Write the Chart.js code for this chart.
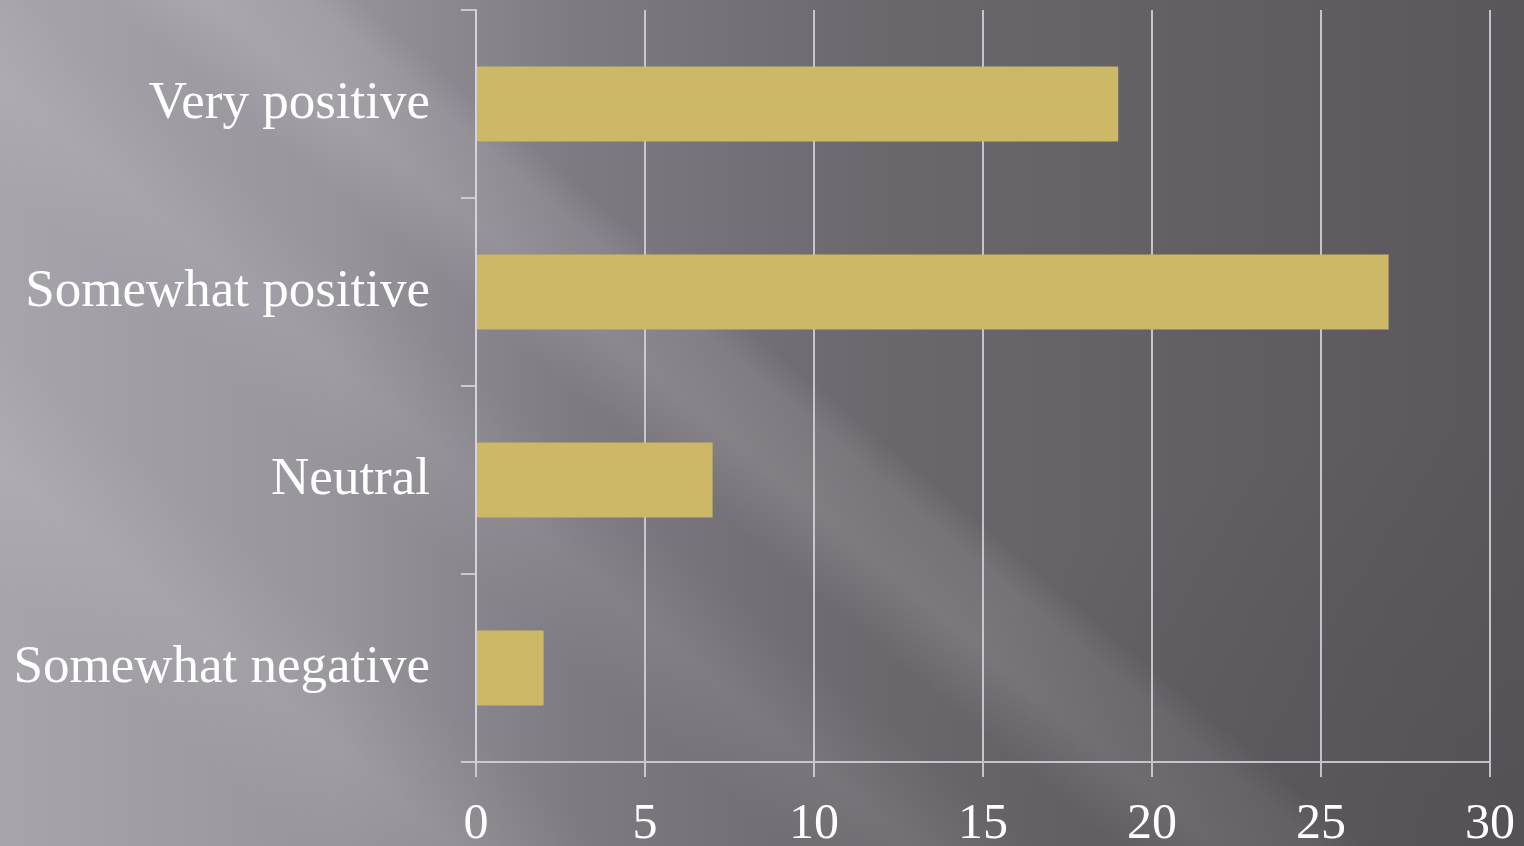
<!DOCTYPE html>
<html>
<head>
<meta charset="utf-8">
<script src="https://cdn.jsdelivr.net/npm/chart.js@4"></script>
<style>
  html, body { margin: 0; padding: 0; }
  body {
    width: 1524px; height: 846px; overflow: hidden;
    background:
      radial-gradient(ellipse 900px 600px at 1524px 846px, rgba(80,76,82,0.55), rgba(80,76,82,0) 70%),
      linear-gradient(40deg, rgba(255,255,255,0) 44%, rgba(255,255,255,0.12) 48%, rgba(255,255,255,0.09) 52%, rgba(255,255,255,0) 54%),
      linear-gradient(40deg, rgba(255,255,255,0) 12%, rgba(255,255,255,0.08) 18%, rgba(255,255,255,0) 24%,
                             rgba(255,255,255,0) 31%, rgba(255,255,255,0.07) 36%, rgba(255,255,255,0) 41%),
      linear-gradient(to right, #a8a4ac 0%, #98949c 22%, #7e7a81 38%, #6b676d 58%, #5a565c 100%);
  }
  #wrap { position: absolute; left: 0; top: 0; width: 1524px; height: 846px; }
</style>
</head>
<body>
<div id="wrap"><canvas id="chart"></canvas></div>
<script>
const categories = ['Very positive', 'Somewhat positive', 'Neutral', 'Somewhat negative'];
const values = [19, 27, 7, 2];
const xMin = 0;
const xMax = 30;
const xStep = 5;

const lineColor = 'rgba(215,213,218,0.85)';
const fontFamily = '"Liberation Serif", "DejaVu Serif", serif';

new Chart(document.getElementById('chart'), {
  type: 'bar',
  data: {
    labels: categories,
    datasets: [{
      data: values,
      backgroundColor: '#ccb866',
      borderWidth: 0,
      barPercentage: 0.4,
      categoryPercentage: 1
    }]
  },
  options: {
    indexAxis: 'y',
    responsive: true,
    maintainAspectRatio: false,
    animation: false,
    layout: { padding: { top: 10, right: 34, bottom: 0, left: 0 } },
    plugins: { legend: { display: false }, tooltip: { enabled: false } },
    scales: {
      x: {
        min: xMin, max: xMax,
        ticks: { stepSize: xStep, color: '#ffffff', padding: 18, font: { family: fontFamily, size: 50 } },
        grid: { color: lineColor, lineWidth: 2, tickLength: 15 },
        border: { color: lineColor, width: 2 },
        afterFit: (axis) => {
          axis.height = 84;
          axis.paddingLeft = 0;
          axis.paddingRight = 0;
        }
      },
      y: {
        ticks: { color: '#ffffff', padding: 31, font: { family: fontFamily, size: 53 } },
        grid: { drawOnChartArea: false, color: lineColor, lineWidth: 2, tickLength: 15 },
        border: { color: lineColor, width: 2 },
        afterFit: (axis) => {
          axis.width = 476;
          axis.paddingTop = 0;
          axis.paddingBottom = 0;
        }
      }
    }
  }
});
</script>
</body>
</html>
